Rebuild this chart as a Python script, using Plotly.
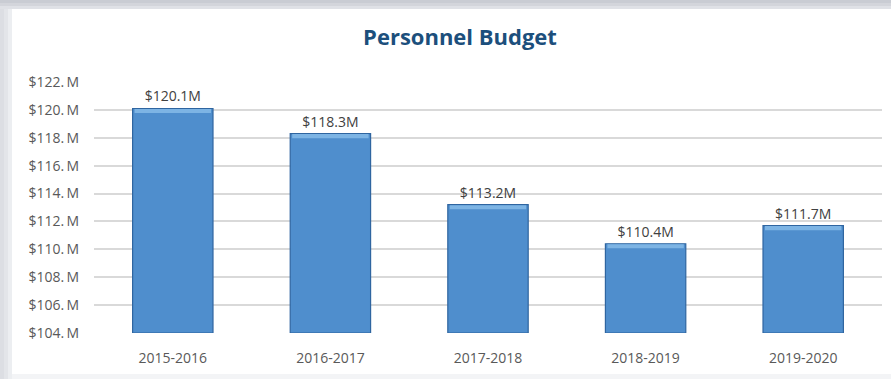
import plotly.graph_objects as go

# Personnel budget by fiscal year, in millions of dollars
years = ["2015-2016", "2016-2017", "2017-2018", "2018-2019", "2019-2020"]
budget = [120.1, 118.3, 113.2, 110.4, 111.7]
y_ticks = [104, 106, 108, 110, 112, 114, 116, 118, 120, 122]
y_tick_labels = [f"${v}.\u2009M" for v in y_ticks]
bar_labels = [f"${v:.1f}M" for v in budget]

W, H = 891, 379
ML, MR, MT, MB = 94, 9, 82, 46
PW, PH = W - ML - MR, H - MT - MB

FONT = "Open Sans"
BAR_W = 0.51

fig = go.Figure()

# main bars
fig.add_trace(go.Bar(
    x=years, y=[v - 104 for v in budget], base=104,
    width=BAR_W,
    marker=dict(color="#4f8ecd", line=dict(color="#2f65a0", width=1.2)),
    text=bar_labels, textposition="outside", cliponaxis=False,
    textfont=dict(family=FONT, size=14, color="#404040"),
    hoverinfo="skip",
))

# bevel highlight along the top edge of each bar
fig.add_trace(go.Bar(
    x=years, y=[0.3] * len(budget), base=[v - 0.33 for v in budget],
    width=BAR_W - 0.025,
    marker=dict(color="#7db4e4", line=dict(width=0)),
    hoverinfo="skip",
))

# frame: grey bands on the top and left edges
def px_x(p):
    return (p - ML) / PW

def px_y(p):
    return (H - MB - p) / PH

shapes = []
top_band = [("#c9ccd3", 0, 3), ("#d3d5db", 3, 6), ("#dfe1e6", 6, 9)]
for col, a, b in top_band:
    shapes.append(dict(type="rect", xref="paper", yref="paper",
                       x0=px_x(0), x1=px_x(W), y0=px_y(b), y1=px_y(a),
                       fillcolor=col, line=dict(width=0), layer="below"))
left_band = [("#dcdee3", 0, 4), ("#e3e5e9", 4, 8), ("#eceef1", 8, 12)]
for col, a, b in left_band:
    shapes.append(dict(type="rect", xref="paper", yref="paper",
                       x0=px_x(a), x1=px_x(b), y0=px_y(H), y1=px_y(9),
                       fillcolor=col, line=dict(width=0), layer="below"))
shapes.append(dict(type="rect", xref="paper", yref="paper",
                   x0=px_x(12), x1=px_x(W), y0=px_y(H), y1=px_y(374),
                   fillcolor="#f3f4f6", line=dict(width=0), layer="below"))

fig.update_layout(
    width=W, height=H,
    margin=dict(l=ML, r=MR, t=MT, b=MB),
    paper_bgcolor="white", plot_bgcolor="white",
    barmode="overlay", showlegend=False,
    title=dict(text="<b>Personnel Budget</b>", x=460 / W, xanchor="center",
               y=1 - 37 / H, yanchor="middle",
               font=dict(family=FONT, size=22, color="#1c4f7c")),
    shapes=shapes,
    xaxis=dict(showgrid=False, showline=False, ticks="",
               tickfont=dict(family=FONT, size=14, color="#595959"),
               ticklabelstandoff=15),
    yaxis=dict(range=[104, 122], tickvals=y_ticks, ticktext=y_tick_labels,
               showgrid=True, gridcolor="#d9d9d9", gridwidth=1.6,
               zeroline=False, showline=False, ticks="",
               tickfont=dict(family=FONT, size=14, color="#595959"),
               ticklabelstandoff=14),
    font=dict(family=FONT),
)

fig.write_html("out.html")
